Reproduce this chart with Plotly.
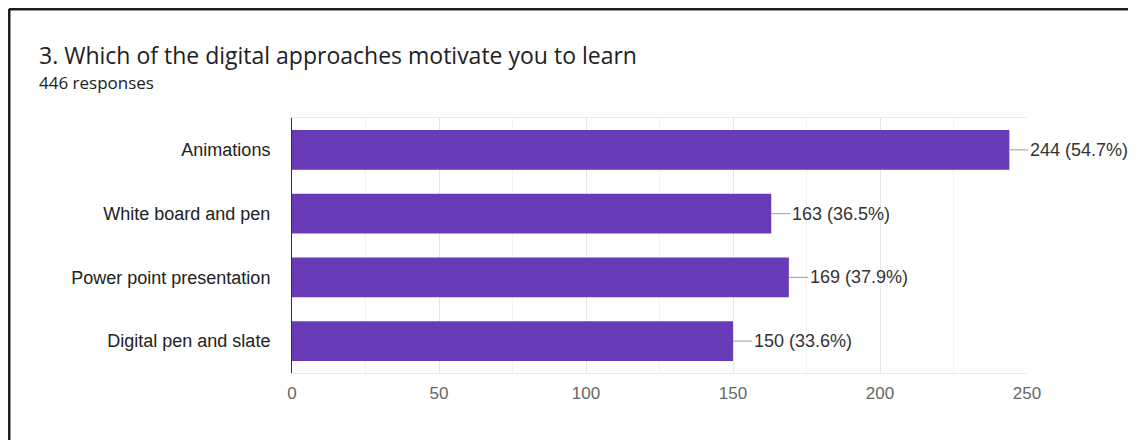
import plotly.graph_objects as go

categories = ["Animations", "White board and pen", "Power point presentation", "Digital pen and slate"]
counts = [244, 163, 169, 150]
percents = [54.7, 36.5, 37.9, 33.6]
title_text = "3. Which of the digital approaches motivate you to learn"
subtitle_text = "446 responses"
x_ticks = [0, 50, 100, 150, 200, 250]

# page body has an 8px margin, so the figure sits at (8, 8) in the window
OFF = 8
W, H = 1120, 432
L, R, T, B = 284, 101, 110, 67
pw, ph = W - L - R, H - T - B

def px(x_win):
    return (x_win - OFF - L) / pw

def py(y_win):
    return (H - B - (y_win - OFF)) / ph

BAR = "#673ab7"
LABEL_FONT = "Liberation Sans, Arial, sans-serif"
TITLE_FONT = "Open Sans, Roboto, sans-serif"

fig = go.Figure()
fig.add_trace(go.Bar(
    x=counts, y=categories, orientation="h",
    marker=dict(color=BAR, line=dict(width=0)),
    width=0.62, hoverinfo="skip",
))

for c, v, p in zip(categories, counts, percents):
    fig.add_annotation(
        x=v, y=c, xref="x", yref="y",
        text=f"{v} ({p}%)",
        showarrow=True, arrowhead=0, arrowwidth=1, arrowcolor="#9e9e9e",
        ax=19, ay=0, axref="pixel", ayref="pixel",
        xanchor="left", yanchor="middle", standoff=0,
        font=dict(family=LABEL_FONT, size=18, color="#333333"),
    )

fig.add_annotation(
    x=px(37), y=py(55), xref="paper", yref="paper",
    text=title_text, showarrow=False, xanchor="left", yanchor="middle",
    font=dict(family=TITLE_FONT, size=23, color="#202124"),
)
fig.add_annotation(
    x=px(37), y=py(82), xref="paper", yref="paper",
    text=subtitle_text, showarrow=False, xanchor="left", yanchor="middle",
    font=dict(family=TITLE_FONT, size=17, color="#202124"),
)

# outer frame (top and left edges)
fig.add_shape(type="line", xref="paper", yref="paper",
              x0=px(9), x1=px(1140), y0=py(9), y1=py(9),
              line=dict(color="#1e1e1e", width=3))
fig.add_shape(type="line", xref="paper", yref="paper",
              x0=px(9), x1=px(9), y0=py(9), y1=py(460),
              line=dict(color="#1e1e1e", width=3))

fig.update_layout(
    width=W, height=H,
    margin=dict(l=L, r=R, t=T, b=B, pad=0),
    paper_bgcolor="white", plot_bgcolor="white",
    showlegend=False, bargap=0.38,
    font=dict(family=LABEL_FONT, size=17, color="#333333"),
    xaxis=dict(
        range=[0, 250], tickvals=x_ticks, ticktext=[str(t) for t in x_ticks],
        showgrid=True, gridcolor="#e6e6e6", gridwidth=1,
        minor=dict(dtick=25, showgrid=True, gridcolor="#f3f3f3", gridwidth=1),
        zeroline=False, showline=True, linecolor="#ebebeb", linewidth=1, mirror=True,
        ticks="", tickfont=dict(family=LABEL_FONT, size=17, color="#666666"),
        ticklabelstandoff=5, fixedrange=True,
    ),
    yaxis=dict(
        categoryorder="array", categoryarray=categories, autorange="reversed",
        showgrid=False, zeroline=False, showline=True, linecolor="#333333", linewidth=1,
        ticks="", ticklabelstandoff=17,
        tickfont=dict(family=LABEL_FONT, size=18, color="#222222"),
        fixedrange=True,
    ),
)

fig.write_html("out.html")
